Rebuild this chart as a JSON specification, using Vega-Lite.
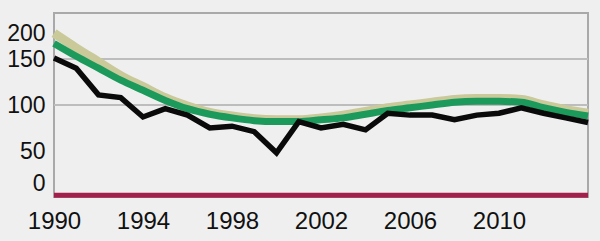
{
  "$schema": "https://vega.github.io/schema/vega-lite/v6.json",
  "autosize": "none",
  "width": 534,
  "height": 184,
  "padding": {"left": 54, "top": 13, "right": 12, "bottom": 44},
  "background": "#efefef",
  "config": {
    "view": {"stroke": "#a9a9a9", "strokeWidth": 2, "fill": "#efefef"},
    "font": "Liberation Sans"
  },
  "datasets": {
    "grid": [{"g": 150}, {"g": 100}],
    "series": [
      {"year": 1990, "series": "khaki", "value": 178},
      {"year": 1991, "series": "khaki", "value": 162},
      {"year": 1992, "series": "khaki", "value": 147},
      {"year": 1993, "series": "khaki", "value": 132},
      {"year": 1994, "series": "khaki", "value": 120},
      {"year": 1995, "series": "khaki", "value": 108},
      {"year": 1996, "series": "khaki", "value": 99},
      {"year": 1997, "series": "khaki", "value": 92},
      {"year": 1998, "series": "khaki", "value": 88},
      {"year": 1999, "series": "khaki", "value": 85},
      {"year": 2000, "series": "khaki", "value": 84},
      {"year": 2001, "series": "khaki", "value": 84},
      {"year": 2002, "series": "khaki", "value": 86},
      {"year": 2003, "series": "khaki", "value": 89},
      {"year": 2004, "series": "khaki", "value": 93},
      {"year": 2005, "series": "khaki", "value": 97},
      {"year": 2006, "series": "khaki", "value": 100},
      {"year": 2007, "series": "khaki", "value": 103},
      {"year": 2008, "series": "khaki", "value": 106},
      {"year": 2009, "series": "khaki", "value": 107},
      {"year": 2010, "series": "khaki", "value": 107},
      {"year": 2011, "series": "khaki", "value": 106},
      {"year": 2012, "series": "khaki", "value": 100},
      {"year": 2013, "series": "khaki", "value": 95},
      {"year": 2014, "series": "khaki", "value": 91},
      {"year": 1990, "series": "green", "value": 167},
      {"year": 1991, "series": "green", "value": 153},
      {"year": 1992, "series": "green", "value": 140},
      {"year": 1993, "series": "green", "value": 127},
      {"year": 1994, "series": "green", "value": 116},
      {"year": 1995, "series": "green", "value": 105},
      {"year": 1996, "series": "green", "value": 96},
      {"year": 1997, "series": "green", "value": 90},
      {"year": 1998, "series": "green", "value": 86},
      {"year": 1999, "series": "green", "value": 83},
      {"year": 2000, "series": "green", "value": 82},
      {"year": 2001, "series": "green", "value": 82},
      {"year": 2002, "series": "green", "value": 84},
      {"year": 2003, "series": "green", "value": 86},
      {"year": 2004, "series": "green", "value": 90},
      {"year": 2005, "series": "green", "value": 94},
      {"year": 2006, "series": "green", "value": 97},
      {"year": 2007, "series": "green", "value": 100},
      {"year": 2008, "series": "green", "value": 103},
      {"year": 2009, "series": "green", "value": 104},
      {"year": 2010, "series": "green", "value": 104},
      {"year": 2011, "series": "green", "value": 103},
      {"year": 2012, "series": "green", "value": 97},
      {"year": 2013, "series": "green", "value": 92},
      {"year": 2014, "series": "green", "value": 88},
      {"year": 1990, "series": "black", "value": 151},
      {"year": 1991, "series": "black", "value": 140},
      {"year": 1992, "series": "black", "value": 111},
      {"year": 1993, "series": "black", "value": 108},
      {"year": 1994, "series": "black", "value": 87},
      {"year": 1995, "series": "black", "value": 96},
      {"year": 1996, "series": "black", "value": 89},
      {"year": 1997, "series": "black", "value": 75},
      {"year": 1998, "series": "black", "value": 77},
      {"year": 1999, "series": "black", "value": 71},
      {"year": 2000, "series": "black", "value": 48},
      {"year": 2001, "series": "black", "value": 82},
      {"year": 2002, "series": "black", "value": 75},
      {"year": 2003, "series": "black", "value": 79},
      {"year": 2004, "series": "black", "value": 73},
      {"year": 2005, "series": "black", "value": 91},
      {"year": 2006, "series": "black", "value": 89},
      {"year": 2007, "series": "black", "value": 89},
      {"year": 2008, "series": "black", "value": 84},
      {"year": 2009, "series": "black", "value": 89},
      {"year": 2010, "series": "black", "value": 91},
      {"year": 2011, "series": "black", "value": 97},
      {"year": 2012, "series": "black", "value": 91},
      {"year": 2013, "series": "black", "value": 86},
      {"year": 2014, "series": "black", "value": 81},
      {"year": 1990, "series": "red", "value": 2},
      {"year": 2014, "series": "red", "value": 2}
    ]
  },
  "layer": [
    {
      "data": {"name": "grid"},
      "mark": {"type": "rule", "color": "#bdbdbd", "strokeWidth": 2},
      "encoding": {
        "y": {
          "field": "g", "type": "quantitative",
          "scale": {"domain": [0, 200], "nice": false},
          "axis": {
            "values": [178, 150, 100, 50, 15],
            "labelExpr": "datum.value == 178 ? '200' : datum.value == 15 ? '0' : datum.label",
            "title": null, "grid": false, "ticks": false, "domain": false,
            "labelFontSize": 23, "labelColor": "#111111", "labelPadding": 9,
            "labelFont": "Liberation Sans", "labelFlush": false, "labelOverlap": false
          }
        }
      }
    },
    {
      "data": {"name": "series"},
      "transform": [{"filter": "datum.series == 'khaki'"}],
      "mark": {"type": "line", "color": "#c9c99a", "strokeWidth": 9, "interpolate": "monotone"},
      "encoding": {
        "x": {
          "field": "year", "type": "quantitative",
          "scale": {"domain": [1990, 2014], "nice": false, "zero": false},
          "axis": {
            "values": [1990, 1994, 1998, 2002, 2006, 2010],
            "format": "d", "title": null, "grid": false, "ticks": false, "domain": false,
            "labelFontSize": 24, "labelColor": "#111111", "labelPadding": 12,
            "labelFont": "Liberation Sans", "labelFlush": false, "labelOverlap": false
          }
        },
        "y": {"field": "value", "type": "quantitative"}
      }
    },
    {
      "data": {"name": "series"},
      "transform": [{"filter": "datum.series == 'green'"}],
      "mark": {"type": "line", "color": "#1b9a5c", "strokeWidth": 7, "interpolate": "monotone"},
      "encoding": {
        "x": {"field": "year", "type": "quantitative"},
        "y": {"field": "value", "type": "quantitative"}
      }
    },
    {
      "data": {"name": "series"},
      "transform": [{"filter": "datum.series == 'black'"}],
      "mark": {"type": "line", "color": "#0a0a0a", "strokeWidth": 5.5, "strokeJoin": "miter"},
      "encoding": {
        "x": {"field": "year", "type": "quantitative"},
        "y": {"field": "value", "type": "quantitative"}
      }
    },
    {
      "data": {"name": "series"},
      "transform": [{"filter": "datum.series == 'red'"}],
      "mark": {"type": "line", "color": "#a3204c", "strokeWidth": 5},
      "encoding": {
        "x": {"field": "year", "type": "quantitative"},
        "y": {"field": "value", "type": "quantitative"}
      }
    }
  ]
}
